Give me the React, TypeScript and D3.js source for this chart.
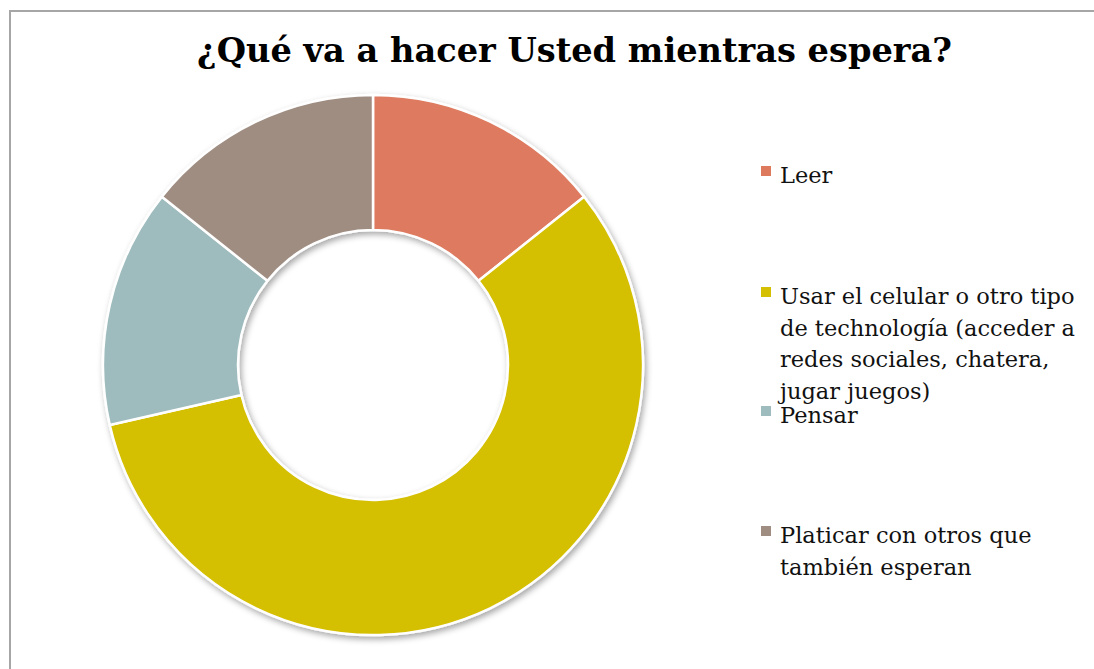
import React from "react";
import * as d3 from "d3";

const categories = [
  "Leer",
  "Usar el celular o otro tipo de technología (acceder a redes sociales, chatera, jugar juegos)",
  "Pensar",
  "Platicar con otros que también esperan",
];
const values = [1, 4, 1, 1];
const colors = ["#DD7A5E", "#D4BF00", "#9EBBBD", "#9F8D82"];
const legendLines = [
  ["Leer"],
  ["Usar el celular o otro tipo", "de technología (acceder a", "redes sociales, chatera,", "jugar juegos)"],
  ["Pensar"],
  ["Platicar con otros que", "también esperan"],
];
const title = "¿Qué va a hacer Usted mientras espera?";

export default function App() {
  const W = 1094, H = 669;
  const cx = 373, cy = 365, rOuter = 270, rInner = 135;
  const pie = d3.pie<number>().value((d) => d).sort(null);
  const arcs = pie(values);
  const arc = d3.arc<d3.PieArcDatum<number>>().innerRadius(rInner).outerRadius(rOuter);
  const legendY = d3.scaleOrdinal<number, number>().domain([0, 1, 2, 3]).range([183, 304, 423, 543]);
  const lineH = 31.5;
  return (
    <svg width={W} height={H} style={{ position: "absolute", left: 0, top: 0, background: "#fff" }}>
      <defs>
        <filter id="sh" x="-10%" y="-10%" width="120%" height="120%">
          <feDropShadow dx="2" dy="3" stdDeviation="3" floodColor="#000" floodOpacity="0.35" />
        </filter>
      </defs>
      <rect x={10} y={11} width={W + 20} height={H + 20} fill="#fff" stroke="#A6A6A6" strokeWidth={2} />
      <text x={574.5} y={62} textAnchor="middle" fontFamily="'DejaVu Serif', serif" fontWeight="bold" fontSize={34}
        textLength={755} lengthAdjust="spacingAndGlyphs" fill="#000">
        {title}
      </text>
      <g transform={`translate(${cx},${cy})`} filter="url(#sh)">
        {arcs.map((a, i) => (
          <path key={categories[i]} d={arc(a) || ""} fill={colors[i]} stroke="#fff" strokeWidth={2.5} strokeLinejoin="round" />
        ))}
      </g>
      <g fontFamily="'DejaVu Serif', serif" fontSize={22.5} fill="#111">
        {legendLines.map((lines, i) => {
          const y0 = legendY(i);
          return (
            <g key={categories[i]}>
              <rect x={761} y={y0 - 17} width={10} height={10} fill={colors[i]} />
              <text x={780} y={y0}>
                {lines.map((l, j) => (
                  <tspan key={j} x={780} y={y0 + j * lineH}>{l}</tspan>
                ))}
              </text>
            </g>
          );
        })}
      </g>
    </svg>
  );
}
